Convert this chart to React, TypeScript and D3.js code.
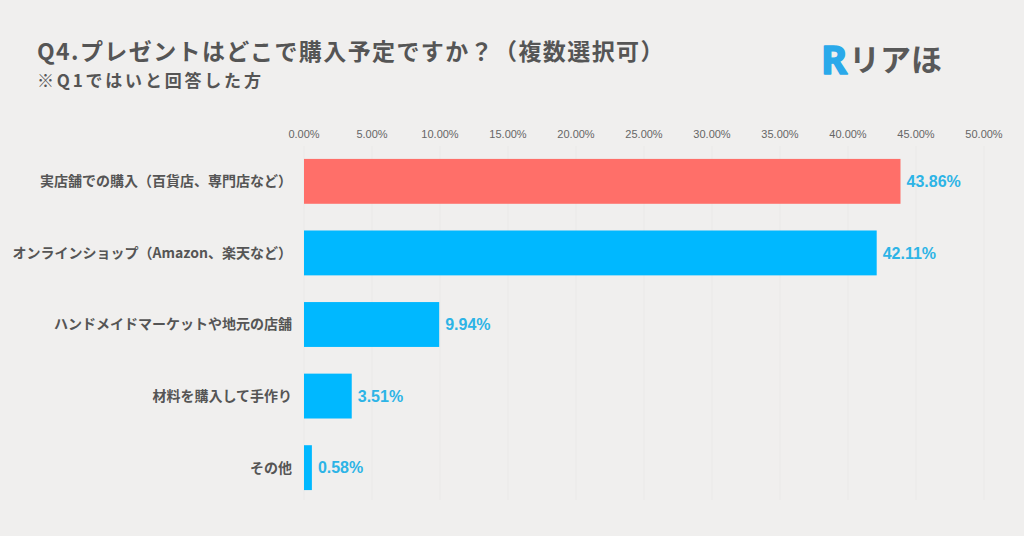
import React, { useEffect, useRef } from 'react';
import * as d3 from 'd3';

const categories = [
  '実店舗での購入（百貨店、専門店など）',
  'オンラインショップ（Amazon、楽天など）',
  'ハンドメイドマーケットや地元の店舗',
  '材料を購入して手作り',
  'その他',
];
const values = [43.86, 42.11, 9.94, 3.51, 0.58];
const barColors = ['#ff6f69', '#00b8ff', '#00b8ff', '#00b8ff', '#00b8ff'];
const ticks = [0, 5, 10, 15, 20, 25, 30, 35, 40, 45, 50];

const W = 1024;
const H = 536;
const JP = '"Noto Sans CJK JP", "Noto Sans", sans-serif';

const App: React.FC = () => {
  const svgRef = useRef<SVGSVGElement>(null);

  useEffect(() => {
    if (!svgRef.current) return;
    const svg = d3.select(svgRef.current);
    svg.selectAll('*').remove();

    svg.append('rect').attr('width', W).attr('height', H).attr('fill', '#f0efee');

    const x = d3.scaleLinear().domain([0, 50]).range([304, 984]);
    const y = d3.scaleBand<string>()
      .domain(categories)
      .range([145.6, 503.4])
      .paddingInner(0.373)
      .paddingOuter(0.186);

    // faint grid
    svg.append('g')
      .selectAll('line')
      .data(ticks)
      .enter()
      .append('line')
      .attr('x1', d => x(d))
      .attr('x2', d => x(d))
      .attr('y1', 146)
      .attr('y2', 500)
      .attr('stroke', '#eae9e8')
      .attr('stroke-width', 1);

    // tick labels
    svg.append('g')
      .selectAll('text')
      .data(ticks)
      .enter()
      .append('text')
      .attr('x', d => x(d))
      .attr('y', 138)
      .attr('text-anchor', 'middle')
      .style('font-family', '"Liberation Sans", Arial, sans-serif')
      .style('font-size', '11px')
      .style('fill', '#666')
      .text(d => d.toFixed(2) + '%');

    const rows = categories.map((c, i) => ({ c, v: values[i], color: barColors[i] }));

    svg.append('g')
      .selectAll('rect')
      .data(rows)
      .enter()
      .append('rect')
      .attr('x', x(0))
      .attr('y', d => y(d.c)!)
      .attr('width', d => x(d.v) - x(0))
      .attr('height', y.bandwidth())
      .attr('fill', d => d.color);

    // category labels
    svg.append('g')
      .selectAll('text')
      .data(rows)
      .enter()
      .append('text')
      .attr('x', 292)
      .attr('y', d => y(d.c)! + y.bandwidth() / 2)
      .attr('dy', '0.35em')
      .attr('text-anchor', 'end')
      .style('font-family', JP)
      .style('font-size', '14px')
      .style('font-weight', 'bold')
      .style('fill', '#555')
      .text(d => d.c);

    // value labels
    svg.append('g')
      .selectAll('text')
      .data(rows)
      .enter()
      .append('text')
      .attr('x', d => x(d.v) + 6)
      .attr('y', d => y(d.c)! + y.bandwidth() / 2)
      .attr('dy', '0.36em')
      .style('font-family', '"Liberation Sans", Arial, sans-serif')
      .style('font-size', '16px')
      .style('font-weight', 'bold')
      .style('fill', '#2db4e6')
      .text(d => d.v.toFixed(2) + '%');

    // title
    svg.append('text')
      .attr('x', 37)
      .attr('y', 60)
      .style('font-family', JP)
      .style('font-size', '23px')
      .style('font-weight', 'bold')
      .style('letter-spacing', '1.4px')
      .style('fill', '#555')
      .text('Q4.プレゼントはどこで購入予定ですか？（複数選択可）');

    svg.append('text')
      .attr('x', 37)
      .attr('y', 87)
      .style('font-family', JP)
      .style('font-size', '17px')
      .style('font-weight', 'bold')
      .style('letter-spacing', '2.8px')
      .style('fill', '#555')
      .text('※Q1ではいと回答した方');

    // logo
    svg.append('text')
      .attr('x', 821)
      .attr('y', 74)
      .style('font-family', '"Noto Sans", sans-serif')
      .style('font-size', '40px')
      .style('font-weight', 'bold')
      .style('fill', '#2aa9ea')
      .style('stroke', '#2aa9ea')
      .style('stroke-width', 1.5)
      .style('stroke-linejoin', 'round')
      .text('R');
    svg.append('text')
      .attr('x', 849)
      .attr('y', 71)
      .style('font-family', JP)
      .style('font-size', '31px')
      .style('font-weight', 'bold')
      .style('fill', '#595959')
      .text('リアほ');
  }, []);

  return (
    <div style={{ position: 'fixed', left: 0, top: 0, width: W, height: H }}>
      <svg ref={svgRef} width={W} height={H} style={{ display: 'block' }} />
    </div>
  );
};

export default App;
